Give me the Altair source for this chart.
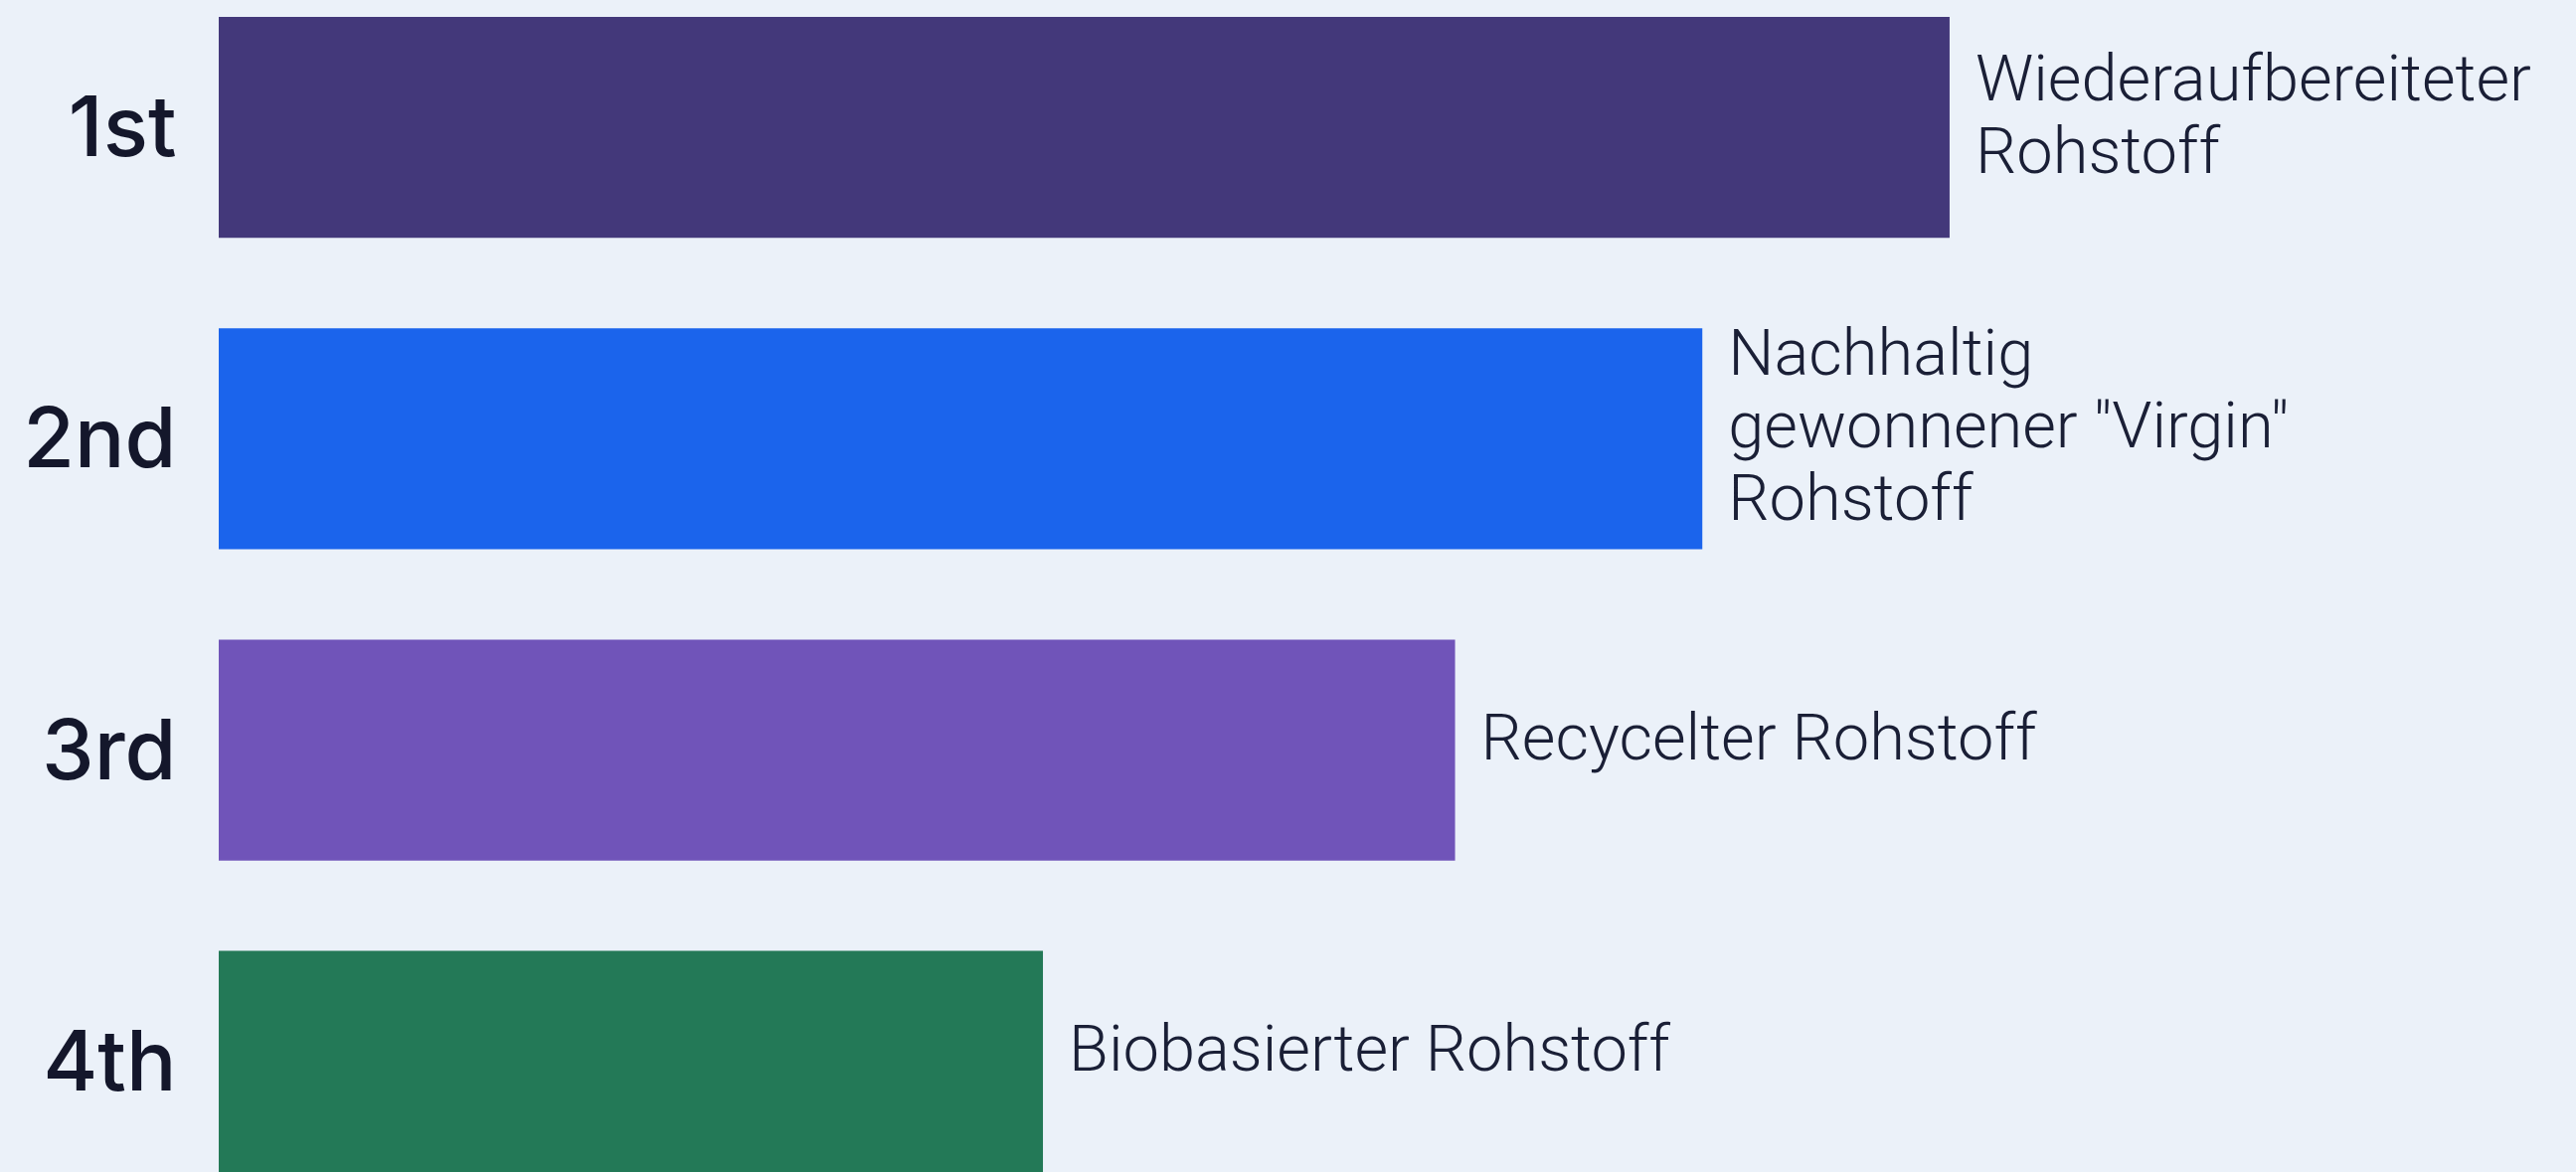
import altair as alt
import pandas as pd

ranks = ["1st", "2nd", "3rd", "4th"]
values = [42, 36, 30, 20]
labels = [
    "Wiederaufbereiteter\nRohstoff",
    'Nachhaltig\ngewonnener "Virgin"\nRohstoff',
    "Recycelter Rohstoff",
    "Biobasierter Rohstoff",
]
colors = ["#43387A", "#1B64EC", "#7054B9", "#237957"]

df = pd.DataFrame({"rank": ranks, "value": values, "label": labels})
df["nlines"] = [l.count("\n") + 1 for l in labels]

x_scale = alt.Scale(domain=[0, 57.2], nice=False, zero=True)
y_scale = alt.Scale(domain=ranks, paddingInner=0.29, paddingOuter=0.027, align=1)

base = alt.Chart(df)

bars = base.mark_bar().encode(
    x=alt.X("value:Q", scale=x_scale, axis=None),
    y=alt.Y(
        "rank:N",
        scale=y_scale,
        sort=ranks,
        axis=alt.Axis(
            title=None,
            domain=False,
            ticks=False,
            labelPadding=43,
            labelOffset=4,
            labelFont="Inter",
            labelFontWeight=500,
            labelFontSize=84,
            labelColor="#14172B",
        ),
    ),
    color=alt.Color("rank:N", scale=alt.Scale(domain=ranks, range=colors), legend=None),
)

LH = 73


def text_layer(n):
    return base.transform_filter(alt.datum.nlines == n).mark_text(
        align="left",
        baseline="middle",
        dx=26,
        dy=-11 - (n - 1) * LH / 2,
        font="Roboto",
        fontSize=65,
        fontWeight=300,
        lineHeight=LH,
        lineBreak="\n",
        color="#1A1F36",
    ).encode(
        x=alt.X("value:Q", scale=x_scale),
        y=alt.Y("rank:N", scale=y_scale, sort=ranks),
        text="label:N",
    )


chart = (
    alt.layer(bars, text_layer(1), text_layer(2), text_layer(3))
    .properties(
        width=2371,
        height=1179,
        background="#EBF1F9",
        padding={"left": 220, "top": 0, "right": 0, "bottom": 0},
        autosize=alt.AutoSizeParams(type="none"),
    )
    .configure_view(stroke=None)
)

chart.save("out.html", embed_options={"renderer": "svg", "actions": False})
